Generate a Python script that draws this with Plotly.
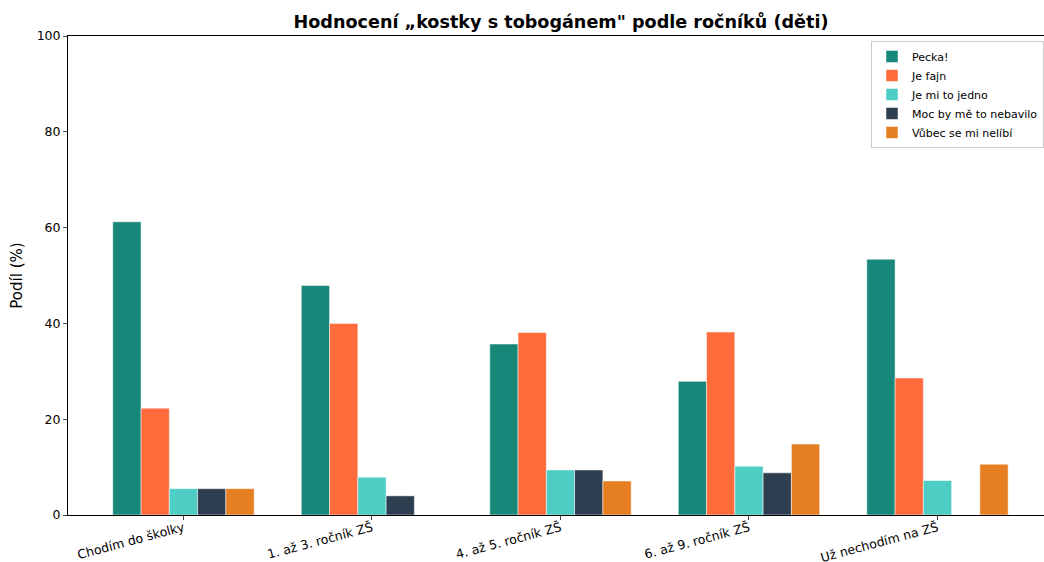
import plotly.graph_objects as go

categories = ["Chodím do školky", "1. až 3. ročník ZŠ", "4. až 5. ročník ZŠ",
              "6. až 9. ročník ZŠ", "Už nechodím na ZŠ"]
series_names = ["Pecka!", "Je fajn", "Je mi to jedno", "Moc by mě to nebavilo", "Vůbec se mi nelíbí"]
pecka = [61.2, 47.9, 35.7, 27.9, 53.4]
fajn = [22.3, 40.0, 38.1, 38.2, 28.6]
jedno = [5.5, 7.9, 9.4, 10.2, 7.2]
nebavilo = [5.5, 4.0, 9.4, 8.8, 0]
nelibi = [5.5, 0, 7.1, 14.8, 10.6]
colors = ["#17877A", "#FF6B3B", "#4ECDC4", "#2C3E50", "#E67E22"]


def main():
    values = [pecka, fajn, jedno, nebavilo, nelibi]
    x = list(range(len(categories)))
    fig = go.Figure()
    for name, vals, col in zip(series_names, values, colors):
        fig.add_trace(go.Bar(x=x, y=vals, name=name,
                             marker=dict(color=col, line=dict(color="white", width=0.5))))

    fig.update_layout(
        width=1044, height=562,
        margin=dict(l=68, r=0, t=36, b=47),
        paper_bgcolor="white", plot_bgcolor="white",
        font=dict(family="DejaVu Sans", size=12.5, color="black"),
        barmode="group", bargap=0.25, bargroupgap=0,
        # axes centre is at ~561 px (axes run past the right edge of the image)
        title=dict(text="<b>Hodnocení „kostky s tobogánem\" podle ročníků (děti)</b>",
                   x=561 / 1044, xanchor="center",
                   y=1 - 22 / 562, yanchor="middle",
                   font=dict(size=17.6, color="black")),
        legend=dict(x=1, y=0.9896, xanchor="right", yanchor="top",
                    bgcolor="white", bordercolor="#cccccc", borderwidth=1,
                    font=dict(size=11), tracegroupgap=0, itemwidth=30),
        showlegend=True,
    )
    fig.update_xaxes(range=[-0.6125, 4.565], tickvals=x, ticktext=categories,
                     tickangle=-15, showline=True, linecolor="black", linewidth=1,
                     mirror=True, ticks="outside", ticklen=4, showgrid=False,
                     zeroline=False, tickfont=dict(size=12.5), automargin=False,
                     ticklabelstandoff=-4)
    fig.update_yaxes(range=[0, 100], tickvals=[0, 20, 40, 60, 80, 100],
                     showline=True, linecolor="black", linewidth=1,
                     ticks="outside", ticklen=4, showgrid=False, zeroline=False,
                     title=dict(text="Podíl (%)", font=dict(size=15), standoff=10),
                     tickfont=dict(size=12.5), automargin=False)
    fig.write_html("out.html", config={"displayModeBar": False},
                   post_script="document.body.style.margin='0';document.body.style.overflow='hidden';")


if __name__ == "__main__":
    main()
